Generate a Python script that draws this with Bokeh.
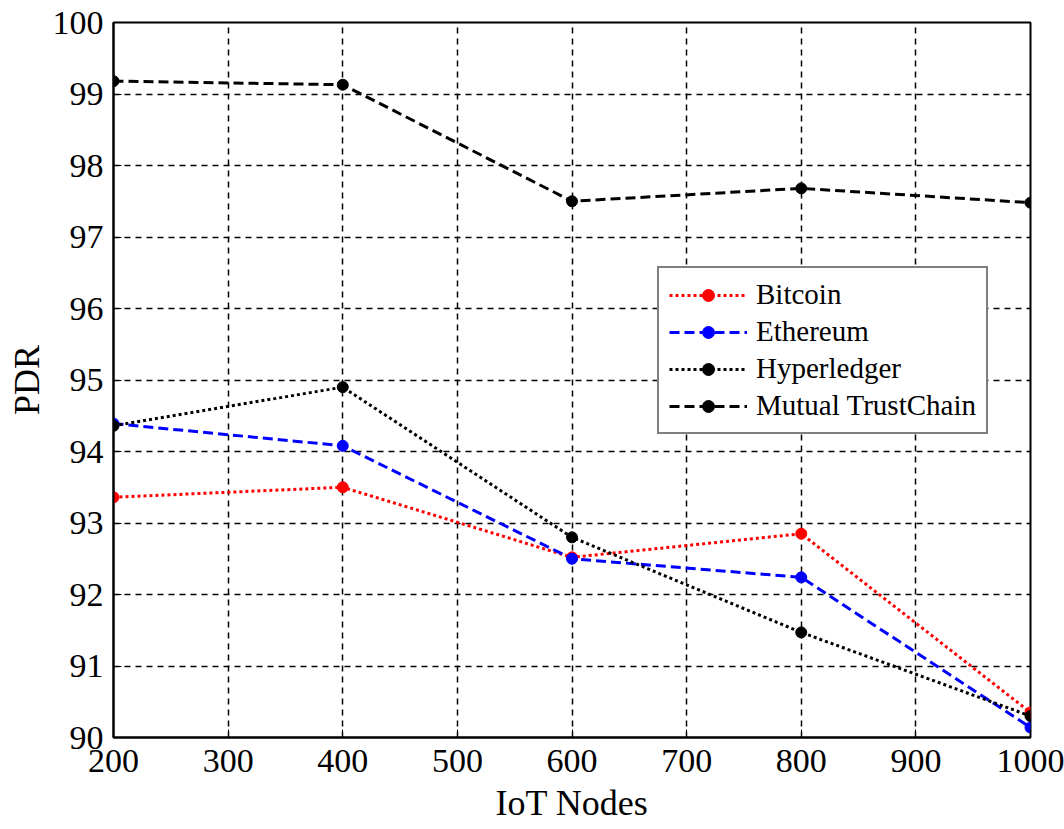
from bokeh.plotting import figure
from bokeh.models import Legend, LegendItem, FixedTicker, Range1d
from bokeh.embed import file_html
from bokeh.resources import INLINE

nodes = [200, 400, 600, 800, 1000]
bitcoin = [93.36, 93.50, 92.52, 92.85, 90.35]
ethereum = [94.39, 94.08, 92.50, 92.24, 90.14]
hyperledger = [94.36, 94.90, 92.80, 91.47, 90.30]
mutual = [99.18, 99.13, 97.50, 97.68, 97.48]

x_ticks = [200, 300, 400, 500, 600, 700, 800, 900, 1000]
y_ticks = [90, 91, 92, 93, 94, 95, 96, 97, 98, 99, 100]

FONT = "Liberation Serif"

p = figure(width=1064, height=829, output_backend="svg", toolbar_location=None,
           x_range=Range1d(200, 1000), y_range=Range1d(90, 100),
           min_border_left=113, min_border_right=34, min_border_top=22, min_border_bottom=92)
p.background_fill_color = "white"
p.border_fill_color = "white"
p.outline_line_color = "black"
p.outline_line_width = 2

for ax in (p.xaxis[0], p.yaxis[0]):
    ax.major_label_text_font = FONT
    ax.major_label_text_font_size = "34px"
    ax.major_label_text_line_height = 1.0
    ax.major_label_text_color = "black"
    ax.axis_label_text_font = FONT
    ax.axis_label_text_font_size = "36px"
    ax.axis_label_text_line_height = 1.0
    ax.axis_label_text_font_style = "normal"
    ax.axis_label_text_color = "black"
    ax.axis_line_color = "black"
    ax.axis_line_width = 2
    ax.major_tick_in = 8
    ax.major_tick_out = 0
    ax.major_tick_line_color = "black"
    ax.minor_tick_line_color = None

p.xaxis.ticker = FixedTicker(ticks=x_ticks)
p.yaxis.ticker = FixedTicker(ticks=y_ticks)
p.xaxis.axis_label = "IoT Nodes"
p.yaxis.axis_label = "PDR"
p.xaxis.major_label_standoff = 12
p.yaxis.major_label_standoff = 10
p.xaxis.axis_label_standoff = 8
p.yaxis.axis_label_standoff = 3

for g in (p.xgrid[0], p.ygrid[0]):
    g.grid_line_color = "black"
    g.grid_line_dash = "6 5"
    g.grid_line_width = 1.5
p.xgrid.ticker = FixedTicker(ticks=x_ticks)
p.ygrid.ticker = FixedTicker(ticks=y_ticks)

series = [
    ("Bitcoin", bitcoin, "red", "3 3"),
    ("Ethereum", ethereum, "blue", "10 5"),
    ("Hyperledger", hyperledger, "black", "3 3"),
    ("Mutual TrustChain", mutual, "black", "10 5"),
]
items = []
for name, ys, col, dash in series:
    l = p.line(nodes, ys, line_color=col, line_width=3, line_dash=dash)
    m = p.scatter(nodes, ys, marker="circle", size=11, fill_color=col, line_color=col)
    items.append(LegendItem(label=name, renderers=[l, m]))

legend = Legend(items=items, location=(544, 303))
legend.label_text_font = FONT
legend.label_text_font_size = "29px"
legend.label_text_color = "black"
legend.glyph_width = 78
legend.glyph_height = 30
legend.label_standoff = 9
legend.spacing = 4
legend.padding = 10
legend.margin = 0
legend.border_line_color = "black"
legend.border_line_width = 2
legend.background_fill_color = "white"
legend.background_fill_alpha = 1
p.add_layout(legend, "center")

open("out.html", "w").write(file_html(p, INLINE))
